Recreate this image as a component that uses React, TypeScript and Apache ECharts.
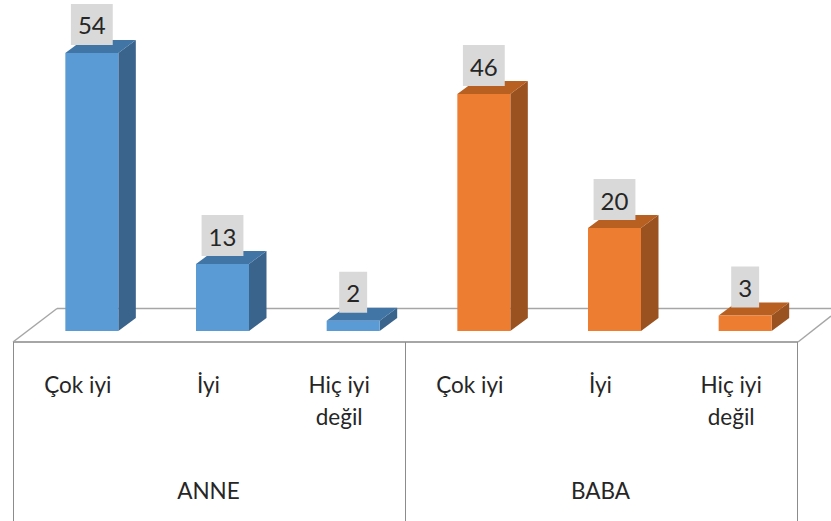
import React, { useEffect, useRef } from "react";
import * as echarts from "echarts";

const levels = ["Çok iyi", "İyi", "Hiç iyi\ndeğil", "Çok iyi", "İyi", "Hiç iyi\ndeğil"];
const groups = ["ANNE", "BABA"];
const anneValues = [54, 13, 2];
const babaValues = [46, 20, 3];
const FONT = "Lato, Carlito, sans-serif";

function bar3d(front: string, top: string, side: string) {
  return (params: any, api: any) => {
    const idx = api.value(0);
    const val = api.value(1);
    const [cx, y1] = api.coord([idx, val]);
    const [, y0] = api.coord([idx, 0]);
    const shift = 14;
    const w = 53;
    const dx = 17.5;
    const dy = 13;
    const l = cx + shift - w / 2;
    const r = l + w;
    const labelText = String(val);
    return {
      type: "group",
      children: [
        { type: "polygon", shape: { points: [[r, y1], [r + dx, y1 - dy], [r + dx, y0 - dy], [r, y0]] }, style: { fill: side } },
        { type: "polygon", shape: { points: [[l, y1], [l + dx, y1 - dy], [r + dx, y1 - dy], [r, y1]] }, style: { fill: top } },
        { type: "rect", shape: { x: l, y: y1, width: w, height: y0 - y1 }, style: { fill: front } },
        {
          type: "text",
          x: cx + shift,
          y: y1 - 8,
          style: {
            text: labelText,
            fill: "#262626",
            font: `24px ${FONT}`,
            align: "center",
            verticalAlign: "bottom",
            backgroundColor: "#d9d9d9",
            padding: [9, 7, 8, 7],
          },
        },
      ],
    };
  };
}

export default function App() {
  const ref = useRef<HTMLDivElement>(null);
  useEffect(() => {
    const chart = echarts.init(ref.current!, undefined, { renderer: "svg" });
    const line = (x1: number, y1: number, x2: number, y2: number, lineWidth: number, stroke: string) => ({
      type: "line",
      z: -1,
      shape: { x1, y1, x2, y2 },
      style: { stroke, lineWidth },
    });
    chart.setOption({
      animation: false,
      backgroundColor: "#ffffff",
      grid: { left: 12.5, top: 22, width: 784, height: 309 },
      xAxis: [
        {
          type: "category",
          data: levels,
          position: "bottom",
          axisLine: { show: false },
          axisTick: { show: false },
          splitLine: { show: false },
          axisLabel: {
            interval: 0,
            margin: 37,
            fontFamily: FONT,
            fontSize: 22.5,
            lineHeight: 32,
            color: "#262626",
            verticalAlign: "top",
          },
        },
        {
          type: "category",
          data: groups,
          position: "bottom",
          axisLine: { show: false },
          axisTick: { show: false },
          splitLine: { show: false },
          axisLabel: {
            interval: 0,
            margin: 146,
            fontFamily: FONT,
            fontSize: 22.5,
            lineHeight: 26,
            color: "#262626",
            verticalAlign: "top",
          },
        },
      ],
      yAxis: { type: "value", min: 0, max: 60, show: false, splitLine: { show: false } },
      series: [
        {
          type: "custom",
          name: "ANNE",
          clip: false,
          renderItem: bar3d("#5b9bd5", "#4175a5", "#3a648b"),
          encode: { x: 0, y: 1 },
          data: anneValues.map((v, i) => [i, v]),
        },
        {
          type: "custom",
          name: "BABA",
          clip: false,
          renderItem: bar3d("#ed7d31", "#b85f22", "#9a5220"),
          encode: { x: 0, y: 1 },
          data: babaValues.map((v, i) => [i + 3, v]),
        },
      ],
      graphic: [
        line(57, 308.5, 831, 308.5, 1.5, "#a6a6a6"),
        line(13, 342, 798, 342, 2, "#a6a6a6"),
        line(13, 342, 57, 308.5, 1.5, "#a6a6a6"),
        line(798, 342, 831, 316, 1.5, "#a6a6a6"),
        line(13.5, 342, 13.5, 521, 1, "#8c8c8c"),
        line(405.5, 342, 405.5, 521, 1, "#8c8c8c"),
        line(797.5, 342, 797.5, 521, 1, "#8c8c8c"),
      ],
    });
    return () => chart.dispose();
  }, []);
  return <div ref={ref} style={{ position: "absolute", left: 0, top: 0, width: 831, height: 521 }} />;
}
